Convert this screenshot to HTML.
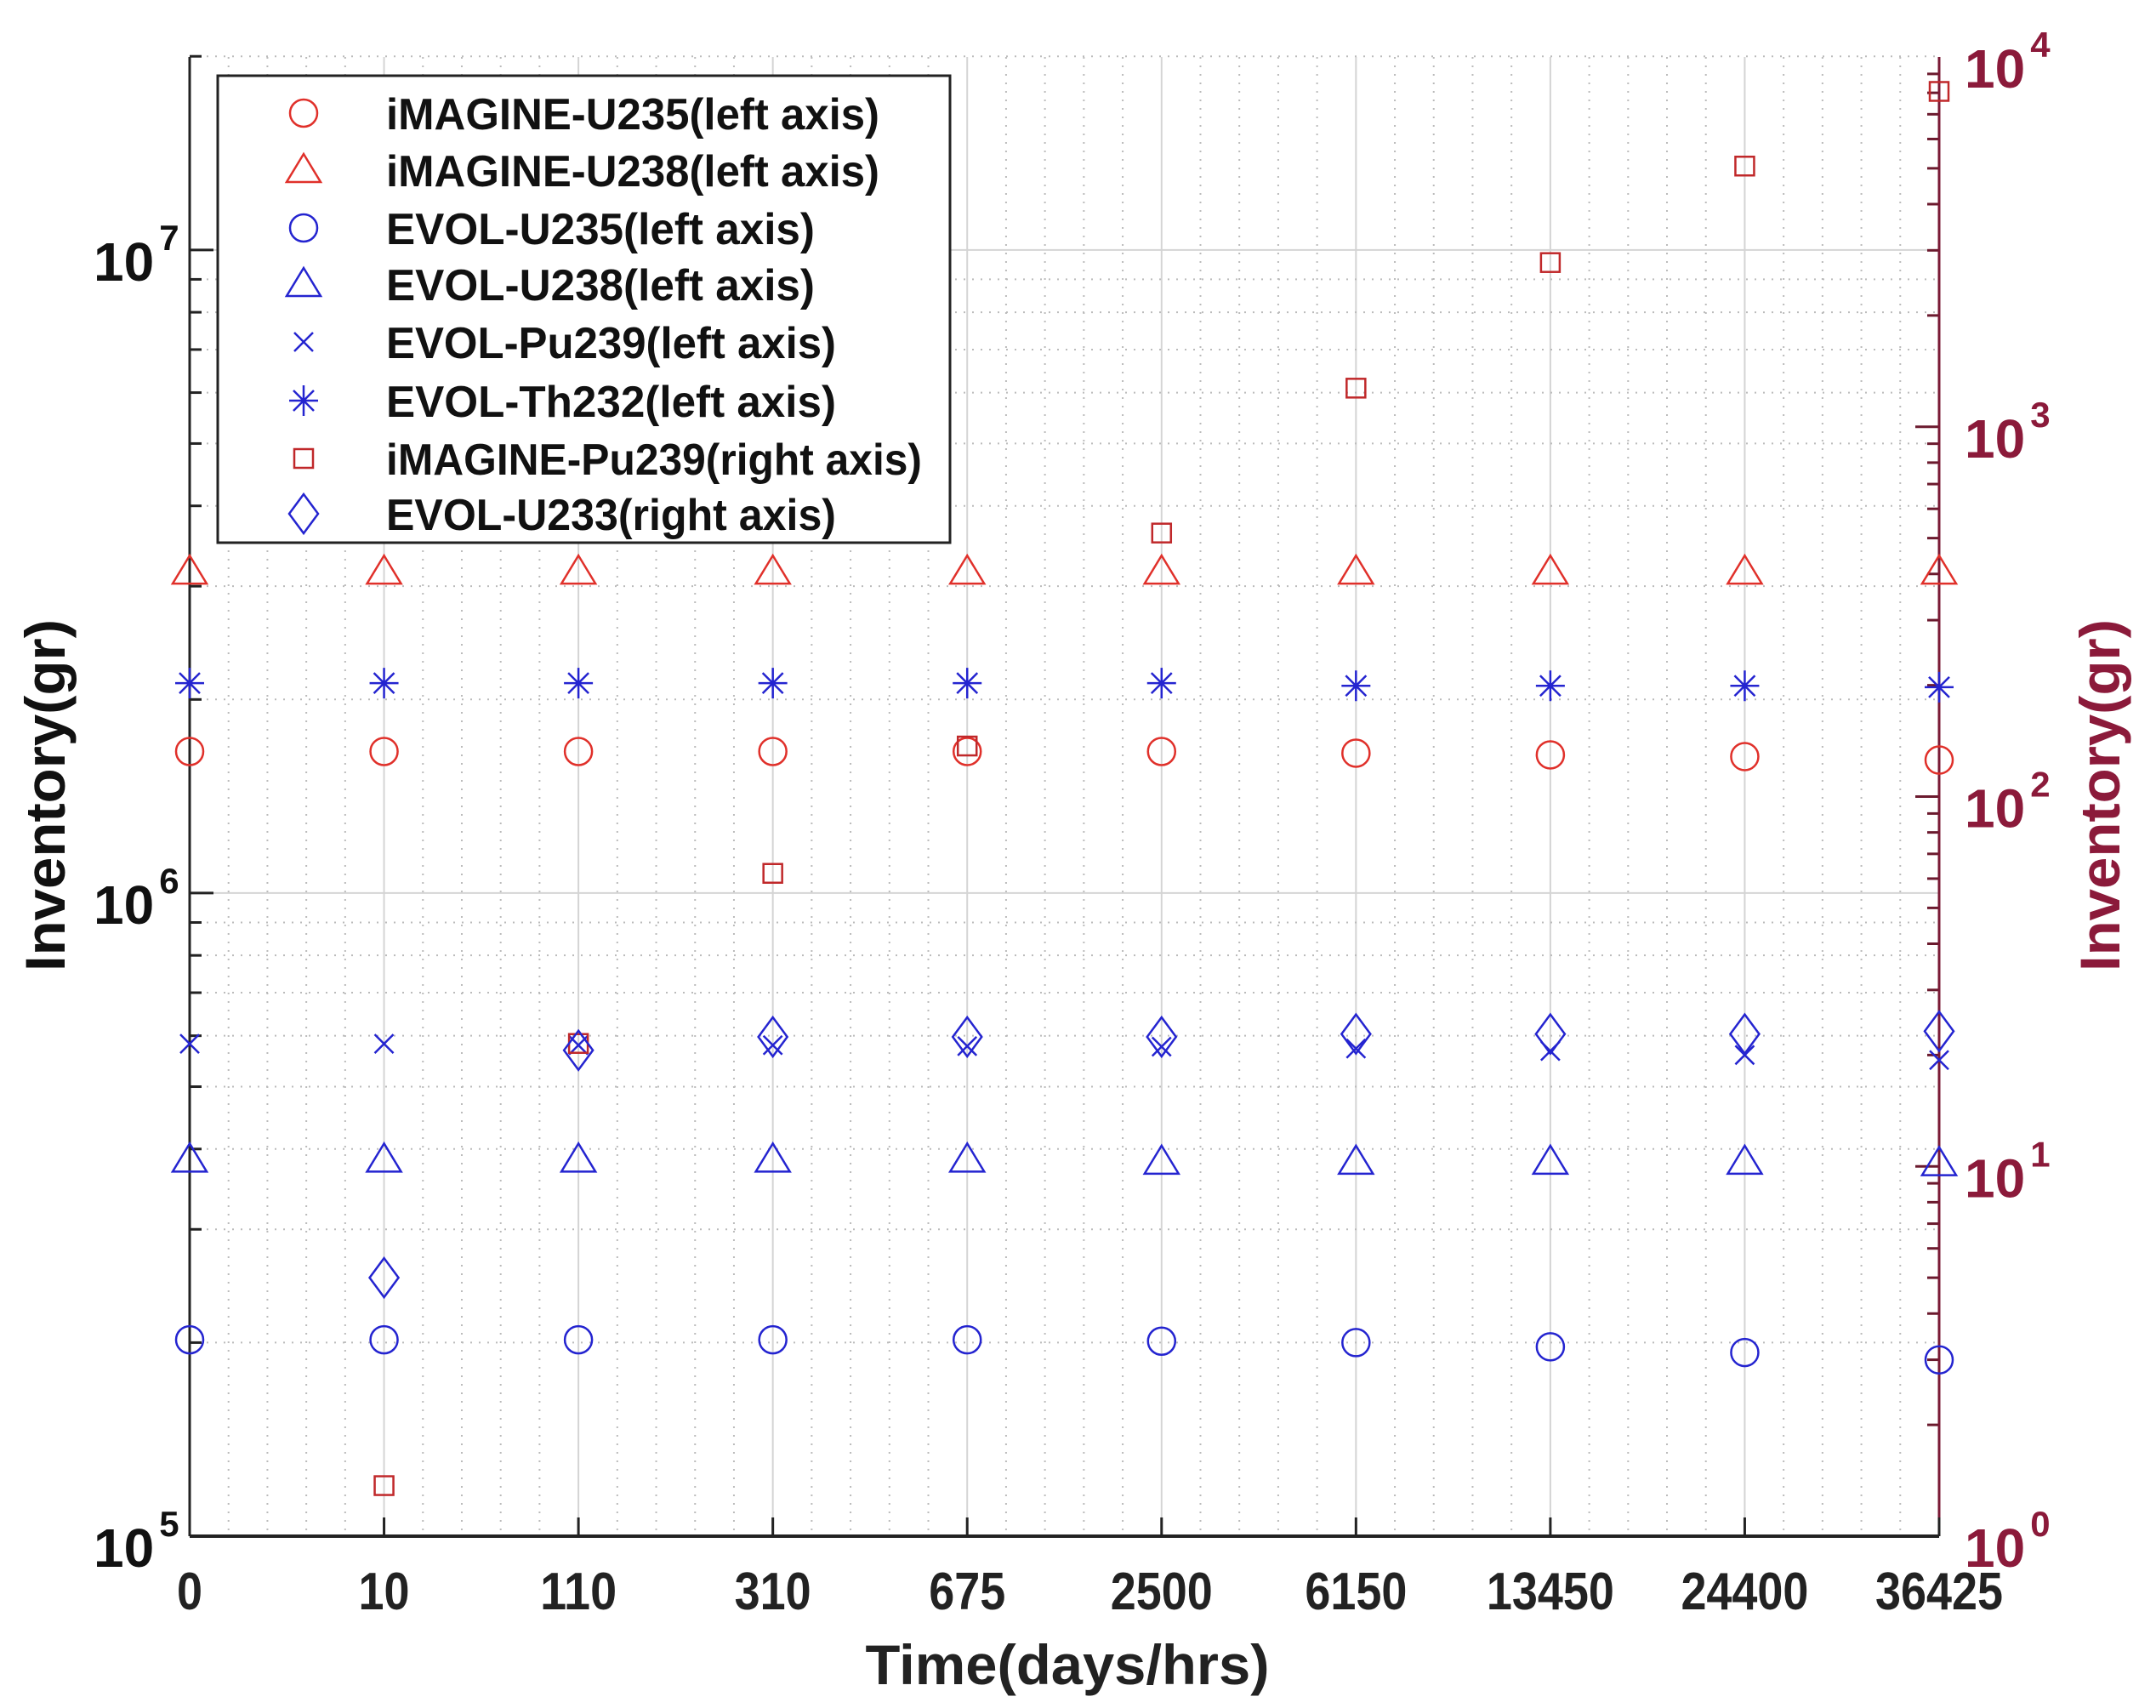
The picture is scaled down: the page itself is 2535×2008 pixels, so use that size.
<!DOCTYPE html>
<html><head><meta charset="utf-8"><style>
html,body{margin:0;padding:0;background:#fff;}
svg{display:block;font-family:"Liberation Sans",Arial,sans-serif;font-weight:bold;}
</style></head><body>
<svg id="chart" xmlns="http://www.w3.org/2000/svg" width="2535" height="2008" viewBox="0 0 2535 2008">
<g id="grid"></g>
<g id="axes"></g>
<g id="marks"></g>
<g id="legend"></g>
<text x="1255" y="1980" font-size="66" text-anchor="middle" fill="#222" textLength="475" lengthAdjust="spacingAndGlyphs">Time(days/hrs)</text>
<text transform="translate(76,935) rotate(-90)" font-size="66" text-anchor="middle" fill="#111" textLength="414" lengthAdjust="spacingAndGlyphs">Inventory(gr)</text>
<text transform="translate(2492,935) rotate(-90)" font-size="66" text-anchor="middle" fill="#8b1a3a" textLength="414" lengthAdjust="spacingAndGlyphs">Inventory(gr)</text>
</svg>
<script>
const categories=["0","10","110","310","675","2500","6150","13450","24400","36425"];
const imagineU235=[1.66e6,1.66e6,1.66e6,1.66e6,1.66e6,1.66e6,1.65e6,1.64e6,1.63e6,1.61e6];
const imagineU238=[3.16e6,3.16e6,3.16e6,3.16e6,3.16e6,3.16e6,3.16e6,3.16e6,3.16e6,3.16e6];
const evolU235=[2.02e5,2.02e5,2.02e5,2.02e5,2.02e5,2.01e5,2.0e5,1.97e5,1.93e5,1.88e5];
const evolU238=[3.85e5,3.85e5,3.85e5,3.85e5,3.85e5,3.82e5,3.82e5,3.82e5,3.82e5,3.8e5];
const evolPu239=[5.83e5,5.83e5,5.8e5,5.8e5,5.78e5,5.77e5,5.73e5,5.68e5,5.6e5,5.5e5];
const evolTh232=[2.12e6,2.12e6,2.12e6,2.12e6,2.12e6,2.12e6,2.1e6,2.1e6,2.1e6,2.09e6];
const imaginePu239=[null,1.37,21.5,62,137,516,1272,2780,5070,8070];
const evolU233=[null,5.0,20.6,22.4,22.4,22.4,22.8,22.8,22.8,23.2];
const leftTicks=[5,6,7];
const rightTicks=[0,1,2,3,4];
const legendLabels=["iMAGINE-U235(left axis)","iMAGINE-U238(left axis)","EVOL-U235(left axis)","EVOL-U238(left axis)","EVOL-Pu239(left axis)","EVOL-Th232(left axis)","iMAGINE-Pu239(right axis)","EVOL-U233(right axis)"];

const NS="http://www.w3.org/2000/svg";
const X0=223,X1=2280,Y0=67,Y1=1806;
const LMIN=5,LMAX=7.3,RMIN=0,RMAX=4;
function xs(i){return X0+(X1-X0)*i/(categories.length-1);}
function yl(v){return Y1-(Math.log10(v)-LMIN)/(LMAX-LMIN)*(Y1-Y0);}
function yr(v){return Y1-(Math.log10(v)-RMIN)/(RMAX-RMIN)*(Y1-Y0);}
function mk(tag,attrs,parent){const e=document.createElementNS(NS,tag);for(const k in attrs)e.setAttribute(k,attrs[k]);parent.appendChild(e);return e;}
const grid=document.getElementById('grid'),axes=document.getElementById('axes'),marks=document.getElementById('marks'),legend=document.getElementById('legend');

for(let i=0;i<categories.length;i++){
  const x=xs(i);
  if(i>0&&i<categories.length-1){const l=mk('line',{x1:x,y1:Y0,x2:x,y2:Y1,stroke:'#d4d4d4','stroke-width':2},grid);
  }
  if(i<categories.length-1){for(let k=1;k<5;k++){const xm=x+(xs(i+1)-x)*k/5;
    const l=mk('line',{x1:xm,y1:Y0,x2:xm,y2:Y1,stroke:'#bbb','stroke-width':2,'stroke-dasharray':'2 8'},grid);
    }}
}
for(let d=5;d<8;d++){for(let m=1;m<10;m++){const v=m*Math.pow(10,d);const y=yl(v);if(y<Y0-1||y>Y1-1)continue;
  const l=mk('line',{x1:X0,y1:y,x2:X1,y2:y,stroke:m===1?'#d4d4d4':'#bbb','stroke-width':2,'stroke-dasharray':m===1?'none':'2 8'},grid);
  
  const t=mk('line',{x1:X0,y1:y,x2:X0+(m===1?28:14),y2:y,stroke:'#222','stroke-width':3},axes);
  }}
for(let d=0;d<4;d++){for(let m=1;m<10;m++){const y=yr(m*Math.pow(10,d));
  const t=mk('line',{x1:X1,y1:y,x2:X1-(m===1?28:14),y2:y,stroke:'#6b1a2e','stroke-width':3},axes);
  }}
let a=mk('line',{x1:X0,y1:Y0,x2:X0,y2:Y1,stroke:'#222','stroke-width':3},axes);

a=mk('line',{x1:X0,y1:Y1,x2:X1,y2:Y1,stroke:'#222','stroke-width':4},axes);

a=mk('line',{x1:X1,y1:Y0,x2:X1,y2:Y1,stroke:'#7a1a36','stroke-width':3},axes);

categories.forEach((c,i)=>{const x=xs(i);
  const t=mk('line',{x1:x,y1:Y1,x2:x,y2:Y1-22,stroke:'#222','stroke-width':3},axes);
  
  const tx=mk('text',{x:x,y:1892,'font-size':62,'text-anchor':'middle',fill:'#222',textLength:c.length*30,lengthAdjust:'spacingAndGlyphs'},axes);tx.textContent=c;
  });
leftTicks.forEach(p=>{const y=yl(Math.pow(10,p));
  const tx=mk('text',{x:110,y:y+36,'font-size':64,fill:'#111'},axes);
  
  tx.textContent='10';const s=mk('tspan',{dy:-36,'font-size':42,dx:6},tx);s.textContent=String(p);});
rightTicks.forEach(p=>{const y=yr(Math.pow(10,p));
  const tx=mk('text',{x:2310,y:y+36,'font-size':64,fill:'#8b1a3a'},axes);
  
  tx.textContent='10';const s=mk('tspan',{dy:-36,'font-size':42,dx:6},tx);s.textContent=String(p);});

const RED='#e0302a',DRED='#c0282a',BLUE='#2424d0';
function marker(type,x,y,color,parent){
  let e;
  if(type==='o')e=mk('circle',{cx:x,cy:y,r:16,fill:'none',stroke:color,'stroke-width':2.5},parent);
  else if(type==='^')e=mk('polygon',{points:`${x},${y-19} ${x-20},${y+14} ${x+20},${y+14}`,fill:'none',stroke:color,'stroke-width':2.5},parent);
  else if(type==='s')e=mk('rect',{x:x-11,y:y-11,width:22,height:22,fill:'none',stroke:color,'stroke-width':2.5},parent);
  else if(type==='d')e=mk('polygon',{points:`${x},${y-23} ${x+17},${y} ${x},${y+23} ${x-17},${y}`,fill:'none',stroke:color,'stroke-width':2.5},parent);
  else if(type==='x')e=mk('path',{d:`M${x-11},${y-11}L${x+11},${y+11}M${x+11},${y-11}L${x-11},${y+11}`,stroke:color,'stroke-width':2.5},parent);
  else if(type==='*')e=mk('path',{d:`M${x},${y-18}V${y+18}M${x-17},${y}H${x+17}M${x-12},${y-12}L${x+12},${y+12}M${x+12},${y-12}L${x-12},${y+12}`,stroke:color,'stroke-width':2.5},parent);
  return e;
}
const series=[
 {d:imagineU235,t:'o',c:RED,ax:yl,n:'imagine-u235-point'},
 {d:imagineU238,t:'^',c:RED,ax:yl,n:'imagine-u238-point'},
 {d:evolU235,t:'o',c:BLUE,ax:yl,n:'evol-u235-point'},
 {d:evolU238,t:'^',c:BLUE,ax:yl,n:'evol-u238-point'},
 {d:evolPu239,t:'x',c:BLUE,ax:yl,n:'evol-pu239-point'},
 {d:evolTh232,t:'*',c:BLUE,ax:yl,n:'evol-th232-point'},
 {d:imaginePu239,t:'s',c:DRED,ax:yr,n:'imagine-pu239-point'},
 {d:evolU233,t:'d',c:BLUE,ax:yr,n:'evol-u233-point'}];
series.forEach(s=>{s.d.forEach((v,i)=>{if(v==null)return;const e=marker(s.t,xs(i),s.ax(v),s.c,marks);
  
  });});
const box=mk('rect',{x:256,y:89,width:861,height:549,fill:'#fff',stroke:'#222','stroke-width':3},legend);


const ly=[133,200,268,334,402,471,539,604];
series.forEach((s,i)=>{const e=marker(s.t,357,ly[i],s.c,legend);
  
  
  const lab=legendLabels[i];
  const tx=mk('text',{x:454,y:ly[i]+19,'font-size':52,fill:'#111',textLength:Math.round(lab.length*25.2),lengthAdjust:'spacingAndGlyphs'},legend);
  tx.textContent=lab;
  
  });
</script>
</body></html>
